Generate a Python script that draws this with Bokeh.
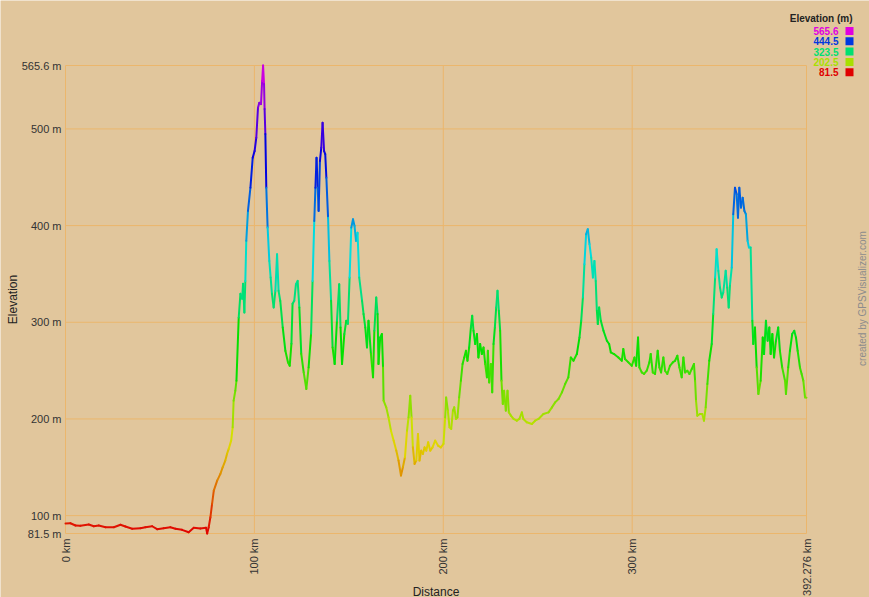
import math
import colorsys
from bokeh.plotting import figure
from bokeh.models import Range1d
from bokeh.core.properties import value
from bokeh.embed import file_html
from bokeh.resources import INLINE

# ---------------- data ----------------
dist_km = [
    0.0, 2.6, 5.3, 7.9, 12.3, 15.0, 17.6, 21.2, 25.6, 29.1, 31.7, 35.3, 39.7, 42.3, 45.9,
    48.5, 52.0, 55.5, 58.2, 61.7, 65.2, 67.9, 71.4, 74.4, 75.0, 75.8, 76.7, 77.6, 78.5,
    80.3, 82.0, 83.2, 84.6, 85.5, 86.4, 87.7, 88.5, 89.0, 89.9, 90.5,
    91.7, 92.6, 93.5, 94.0, 94.7, 95.2, 95.7, 96.6, 97.9, 99.1, 100.1, 101.0, 101.9, 102.6,
    103.5, 104.1, 104.6, 105.1, 105.4, 105.8, 106.3, 107.0, 107.9, 108.6, 109.3, 110.2,
    111.1, 112.0, 112.8, 113.7, 115.0, 116.4, 117.8, 118.7, 119.6, 120.2, 121.1, 122.0,
    122.9, 123.8, 124.8, 126.1, 127.5, 128.7, 130.0, 130.8, 131.7, 132.3, 132.9, 133.5,
    134.0, 134.7, 135.4, 136.1, 136.9, 137.5, 138.1, 139.0, 139.7, 140.6, 141.4, 142.5,
    143.7, 144.9, 145.6, 146.4, 147.6, 148.6, 149.5, 150.4, 151.3, 152.2, 153.0, 153.8,
    154.6, 155.5, 157.0, 157.8, 158.7, 159.6, 160.4, 161.7, 162.8, 163.5, 164.5, 165.2,
    165.7, 166.6, 167.5, 168.1, 168.4, 169.8, 171.0, 172.3, 173.7, 175.1, 176.3, 177.6,
    178.6, 179.7, 180.8, 181.6, 182.5, 183.2, 183.9, 184.8, 185.7, 186.6, 187.4, 188.3,
    189.2, 190.1, 191.0, 192.0, 193.1, 194.3, 195.7, 197.2, 198.7, 200.1, 201.0, 201.5,
    202.4, 203.3, 204.2, 205.1, 205.8, 206.7, 207.5, 208.4, 209.3, 210.2, 211.1, 212.0,
    212.8, 213.7, 214.6, 215.3, 216.0, 216.9, 217.8, 218.6, 219.5, 220.4, 221.3, 222.2,
    223.1, 223.6, 224.3, 225.2, 225.9, 226.6, 227.3, 228.0, 228.7, 229.4, 230.1, 230.8,
    231.5, 232.2, 233.1, 234.0, 234.7, 235.8, 237.2, 238.9, 240.3, 241.6, 242.4, 244.2,
    246.9, 248.6, 250.4, 253.0, 255.7, 257.5, 259.2, 261.0, 262.8, 264.5, 266.2, 267.5,
    268.9, 270.7, 272.1, 273.0, 273.9, 274.7, 275.6, 276.5, 277.4, 278.3, 279.2, 280.0,
    280.7, 281.3, 281.8, 282.5, 283.4, 284.8, 286.6, 287.8, 288.7, 290.4, 292.7, 294.5,
    295.3, 296.2, 298.0, 299.8, 301.2, 302.1, 303.1, 303.8, 305.1, 306.3, 307.7, 309.1,
    309.8, 310.9, 312.1, 313.5, 314.4, 315.3, 316.5, 317.4, 318.6, 320.0, 321.5, 322.7,
    323.9, 325.0, 326.2, 327.1, 328.0, 329.2, 330.3, 331.5, 332.7, 333.3, 333.8, 334.5,
    335.9, 337.1, 338.0, 338.9, 339.8, 340.8, 342.1, 342.9, 343.9, 344.7, 345.6, 346.5,
    347.4, 348.2, 349.5, 350.3, 351.1, 351.8, 352.7, 353.5, 354.4, 355.3, 356.0, 356.7,
    357.6, 358.5, 359.4, 360.2, 361.1, 361.8, 362.7, 363.6, 364.1, 365.0, 365.9, 366.8,
    368.0, 369.1, 369.8, 370.8, 371.7, 372.6, 373.3, 374.2, 375.1, 376.1, 377.3, 378.2,
    379.4, 380.9, 381.4, 382.6, 383.5, 384.7, 385.8, 386.7, 387.6, 388.8, 389.7, 390.6,
    391.5, 392.276,
]

elev_m = [
    91.8, 92.1, 89.8, 89.5, 90.8, 89.0, 89.8, 88.0, 88.0, 90.5, 88.7, 86.4, 87.0, 88.0, 89.0,
    86.0, 87.0, 88.0, 86.4, 85.3, 82.8, 87.4, 86.7, 87.4, 81.5, 88.0, 98.3, 112.2, 125.9,
    136.2, 143.2, 150.0, 156.9, 163.8, 169.0, 177.6, 191.3, 218.9, 229.2, 239.5,
    304.9, 329.4, 324.3, 339.8, 310.1, 342.8, 384.2, 415.2, 439.2, 470.2, 477.1, 490.9, 521.9, 527.0,
    525.7, 549.5, 565.6, 546.4, 520.5, 494.7, 439.2, 397.9, 363.5, 346.3, 329.4, 315.3,
    332.5, 370.4, 332.5, 322.2, 294.6, 270.5, 258.4, 255.0, 277.8, 319.1, 322.2, 339.4,
    342.8, 315.3, 267.4, 248.1, 231.0, 253.3, 288.1, 342.8, 404.8, 439.2, 470.2, 439.2,
    415.2, 466.8, 480.5, 506.4, 477.1, 474.0, 449.5, 408.2, 363.5, 322.2, 274.0, 256.8,
    301.5, 339.4, 294.6, 256.8, 287.8, 301.5, 298.4, 346.3, 397.9, 406.6, 399.7, 384.2,
    392.7, 346.3, 322.2, 308.5, 294.6, 274.0, 301.5, 267.1, 243.0, 291.2, 325.6, 308.5,
    256.8, 284.3, 287.8, 253.3, 218.9, 212.0, 201.6, 187.9, 177.6, 167.3, 157.0, 141.4,
    150.0, 160.3, 187.9, 201.6, 224.1, 201.6, 170.6, 153.5, 156.9, 184.5, 156.9, 167.2,
    163.8, 170.6, 167.2, 175.8, 167.2, 170.6, 177.6, 172.4, 170.6, 174.2, 201.6, 222.3,
    208.6, 191.3, 189.7, 208.6, 212.0, 200.0, 201.6, 222.3, 239.5, 256.8, 263.6, 270.5,
    260.2, 274.0, 294.6, 306.7, 291.2, 277.5, 287.8, 263.6, 277.5, 267.1, 274.0, 256.8,
    243.0, 270.5, 237.8, 256.8, 227.5, 277.5, 294.6, 315.3, 332.5, 311.9, 291.2, 239.5,
    215.5, 229.2, 208.6, 229.2, 206.8, 203.4, 200.0, 198.2, 200.0, 206.8, 200.0, 196.5,
    194.8, 198.2, 200.0, 205.1, 206.8, 212.0, 217.1, 220.6, 227.5, 236.1, 243.0, 263.6,
    260.2, 267.1, 284.3, 301.5, 325.6, 360.1, 391.1, 396.3, 380.8, 366.9, 346.3, 363.5,
    342.8, 311.9, 298.1, 315.3, 301.5, 291.2, 280.9, 277.5, 268.8, 267.1, 263.6, 260.2,
    272.3, 262.0, 258.5, 255.0, 263.6, 255.0, 284.3, 253.3, 248.1, 246.5, 249.9, 258.5,
    267.1, 248.1, 246.5, 270.5, 253.3, 248.1, 263.6, 249.9, 246.5, 255.0, 258.5, 260.2,
    265.4, 253.3, 243.0, 263.6, 248.1, 249.9, 246.5, 251.6, 256.8, 239.5, 218.9, 203.4,
    205.1, 205.1, 198.2, 212.0, 236.1, 260.2, 277.5, 308.5, 346.3, 375.6, 353.2, 335.9,
    325.6, 330.8, 353.2, 335.9, 315.3, 339.4, 356.6, 411.7, 439.2, 432.4, 408.2, 439.2,
    418.6, 428.9, 415.2, 411.7, 384.2, 377.3, 377.3, 301.5, 277.5, 294.6, 253.3, 225.8,
    239.5, 284.3, 267.1, 301.5, 280.9, 294.6, 267.1, 287.8, 263.6, 280.9, 294.6, 270.5,
    253.3, 239.5, 225.8, 253.3, 270.5, 287.8, 291.2, 284.3, 270.5, 253.3, 246.5, 239.5,
    222.3, 222.0,
]

y_ticks = [81.5, 100, 200, 300, 400, 500, 565.6]
y_tick_labels = ["81.5 m", "100 m", "200 m", "300 m", "400 m", "500 m", "565.6 m"]
y_grid = [100, 200, 300, 400, 500]
x_ticks = [0, 100, 200, 300, 392.276]
x_tick_labels = ["0 km", "100 km", "200 km", "300 km", "392.276 km"]
x_grid = [100, 200, 300]
legend_values = [565.6, 444.5, 323.5, 202.5, 81.5]
legend_labels = ["565.6", "444.5", "323.5", "202.5", "81.5"]

E_MIN, E_MAX = 81.5, 565.6
X_MAX = 392.276

BG = "#e1c69c"
GRID = "#ebb66c"
FONT = "Liberation Sans"

# ---------------- layout (canvas pixels) ----------------
W, H = 869, 597
FL, FR, FT, FB = 65, 806, 65, 533       # edges of the plotting area
KX = (FR - FL) / X_MAX                  # px per km
KY = (FB - FT) / (E_MAX - E_MIN)        # px per m


def px2x(px):
    return (px - FL) / KX


def py2y(py):
    return E_MIN + (FB - py) / KY


def elev_color(e):
    h = (e - E_MIN) / (E_MAX - E_MIN) * 300.0 / 360.0
    h = min(max(h, 0.0), 300.0 / 360.0)
    r, g, b = colorsys.hsv_to_rgb(h, 1.0, 0.88)
    return "#%02x%02x%02x" % (int(r * 255), int(g * 255), int(b * 255))


p = figure(width=W, height=H, output_backend="svg", toolbar_location=None,
           x_range=Range1d(px2x(0), px2x(W)), y_range=Range1d(py2y(H), py2y(0)),
           min_border=0)
p.background_fill_color = BG
p.border_fill_color = BG
p.outline_line_color = None
p.xaxis.visible = False
p.yaxis.visible = False
p.xgrid.visible = False
p.ygrid.visible = False

# grid lines and frame of the plotting area
p.segment(x0=x_grid, x1=x_grid, y0=[E_MIN] * len(x_grid), y1=[E_MAX] * len(x_grid),
          line_color=GRID, line_width=1)
p.segment(x0=[0] * len(y_grid), x1=[X_MAX] * len(y_grid), y0=y_grid, y1=y_grid,
          line_color=GRID, line_width=1)
p.quad(left=[0], right=[X_MAX], bottom=[E_MIN], top=[E_MAX],
       fill_color=None, line_color=GRID, line_width=1)

# elevation line, coloured by elevation
x0 = dist_km[:-1]
x1 = dist_km[1:]
y0 = elev_m[:-1]
y1 = elev_m[1:]
cols = [elev_color((a + b) / 2.0) for a, b in zip(y0, y1)]
p.segment(x0=x0, y0=y0, x1=x1, y1=y1, line_color=cols, line_width=2,
          line_cap="round", line_join="round")

# tick labels
p.text(x=[0] * len(y_ticks), y=y_ticks, text=y_tick_labels, x_offset=-4,
       text_align="right", text_baseline="middle", text_font=value(FONT),
       text_font_size="11px", text_color="#333333")
p.text(x=x_ticks, y=[E_MIN] * len(x_ticks), text=x_tick_labels, y_offset=5,
       angle=math.pi / 2, text_align="right", text_baseline="middle",
       text_font=value(FONT), text_font_size="11px", text_color="#333333")

# axis titles
p.text(x=[X_MAX / 2], y=[py2y(591)], text=["Distance"], text_align="center",
       text_baseline="middle", text_font=value(FONT), text_font_size="12px",
       text_color="#222222")
p.text(x=[px2x(12)], y=[(E_MIN + E_MAX) / 2], text=["Elevation"], angle=math.pi / 2,
       text_align="center", text_baseline="middle", text_font=value(FONT),
       text_font_size="12px", text_color="#222222")

# watermark
p.text(x=[px2x(862)], y=[py2y(298)], text=["created by GPSVisualizer.com"],
       angle=math.pi / 2, text_align="center", text_baseline="middle",
       text_font=value(FONT), text_font_size="10px", text_color="#8c8c8c")

# legend
p.text(x=[px2x(852)], y=[py2y(18)], text=["Elevation (m)"], text_align="right",
       text_baseline="middle", text_font=value(FONT), text_font_size="10px",
       text_font_style="bold", text_color="#222222")
leg_y = [py2y(30.5 + i * 10.3) for i in range(len(legend_values))]
leg_cols = [elev_color(v) for v in legend_values]
p.text(x=[px2x(838)] * len(legend_values), y=leg_y, text=legend_labels,
       text_align="right", text_baseline="middle", text_font=value(FONT),
       text_font_size="10px", text_font_style="bold", text_color=leg_cols)
p.scatter(x=[px2x(849)] * len(legend_values), y=leg_y, marker="square", size=8,
          fill_color=leg_cols, line_color=None)

open("out.html", "w").write(file_html(p, INLINE))
